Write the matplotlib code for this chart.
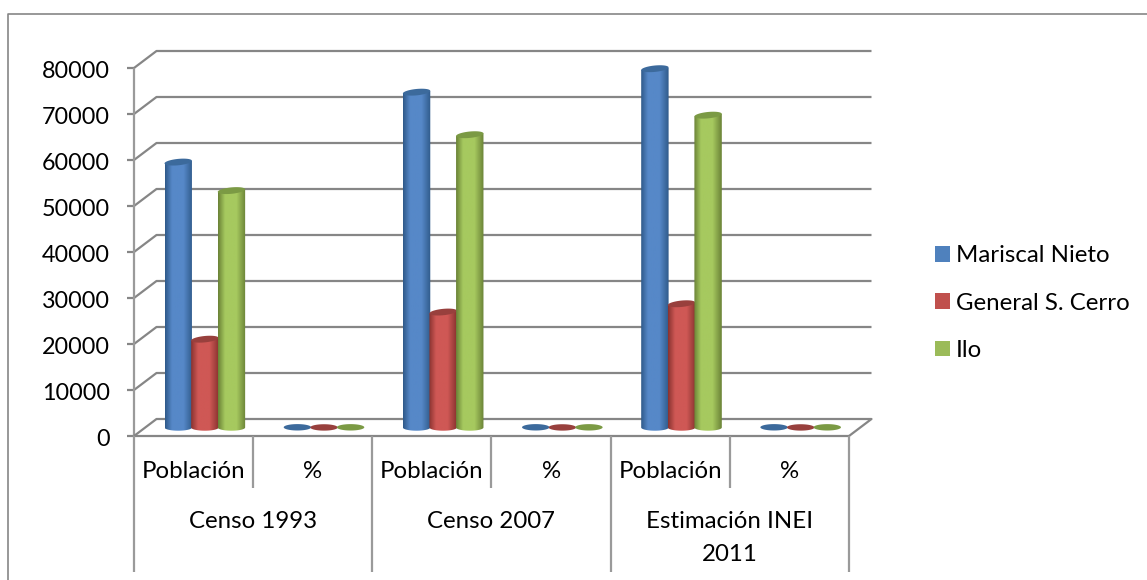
#!/usr/bin/env python3
import matplotlib
matplotlib.use("Agg")
import matplotlib.pyplot as plt
from matplotlib.colors import LinearSegmentedColormap
from matplotlib.lines import Line2D
from matplotlib.patches import PathPatch, Polygon, Rectangle
from matplotlib.path import Path
import numpy as np

W, H = 1147, 580

groups = ["Censo 1993", "Censo 2007", "Estimación INEI\n2011"]
subcats = ["Población", "%"] * 3
series = ["Mariscal Nieto", "General S. Cerro", "Ilo"]
mariscal = [57700, 45, 72900, 45, 78000, 45]
cerro = [19200, 15, 25100, 15, 26900, 15]
ilo = [51500, 40, 63650, 39, 67900, 40]
y_ticks = [0, 10000, 20000, 30000, 40000, 50000, 60000, 70000, 80000]

colors = ["#4f81bd", "#c0504d", "#9bbb59"]
edge_colors = ["#2f5a8a", "#8a3330", "#6b8337"]
mid_colors = ["#5688c8", "#cf5855", "#a6c95f"]
top_colors = ["#3c6a9c", "#98403d", "#7b9a44"]
GRID = "#868686"
LW = 1.6
FS = 17.3

plt.rcParams["font.family"] = ["Lato", "DejaVu Sans"]
fig = plt.figure(figsize=(W / 100, H / 100), dpi=100)

# front plane of the fake 3d box, in pixels of the image
left, right, y0, y80 = 134, 849, 436, 68
ax = fig.add_axes([left / W, 1 - y0 / H, (right - left) / W, (y0 - y80) / H])
ax.set_xlim(0, len(subcats))
ax.set_ylim(0, 80000)
ax.axis("off")

px = len(subcats) / (right - left)
py = 80000 / (y0 - y80)
depth_x = 22.5 * px
depth_y = 17 * py


def line(xs, ys, **kw):
    ax.add_line(Line2D(xs, ys, color=kw.pop("color", GRID), lw=kw.pop("lw", LW),
                       clip_on=False, solid_capstyle="butt", **kw))


# walls
for v in y_ticks:
    if v > 0:
        line([0, depth_x, len(subcats) + depth_x],
             [v, v + depth_y, v + depth_y], zorder=1)
    line([-7 * px, 0], [v, v], zorder=1)
line([0, 0], [0, 80000], zorder=1, color="#9a9a9a")
line([0, depth_x, len(subcats) + depth_x, len(subcats)],
     [0, depth_y, depth_y, 0], zorder=1)
line([0, len(subcats)], [0, 0], zorder=1)

# axis labels and the two level category axis
for v in y_ticks:
    ax.text(-24 * px, v - 4 * py, str(v), ha="right", va="center",
            fontsize=16.8, color="black", clip_on=False)

inner_bottom = -52 * py
outer_bottom = -136 * py
for i in range(len(subcats) + 1):
    bottom = outer_bottom if i % 2 == 0 else inner_bottom
    line([i, i], [0, bottom], zorder=1, color="#9a9a9a")
for i, lab in enumerate(subcats):
    ax.text(i + 0.5, -36 * py, lab, ha="center", va="center", fontsize=FS)
for i, lab in enumerate(groups):
    ax.text(2 * i + 1, -86 * py if "\n" not in lab else -102 * py, lab,
            ha="center", va="center", fontsize=FS, linespacing=1.75)


def cylinder(xc, val, k, zorder):
    hw = 13.7 * px
    ry = 3.2 * py
    base = depth_y / 2
    top = base + val
    # tall cylinders show a slightly tilted lid
    tilt = 1.3 * py if val > 1000 else 0.0
    t = np.linspace(0, 2 * np.pi, 60)
    lid_x = xc + hw * np.cos(t)
    lid_y = top + ry * np.sin(t) + tilt * np.cos(t)
    if val > 1000:
        s = np.linspace(np.pi, 2 * np.pi, 40)
        bx = xc + hw * np.cos(s)
        by = base + ry * np.sin(s)
        verts = np.vstack([[[xc - hw, top - tilt]], np.column_stack([bx, by]),
                           [[xc + hw, top + tilt]], [[xc - hw, top - tilt]]])
        clip = PathPatch(Path(verts), transform=ax.transData, fc="none", ec="none")
        ax.add_patch(clip)
        cmap = LinearSegmentedColormap.from_list(
            "c", [edge_colors[k], mid_colors[k], mid_colors[k], edge_colors[k]])
        grad = np.interp(np.linspace(0, 1, 60), [0, 0.3, 0.6, 1], [0, 0.4, 0.6, 1])[None, :]
        im = ax.imshow(grad, cmap=cmap, extent=[xc - hw, xc + hw, base - ry, top + tilt],
                       aspect="auto", zorder=zorder, vmin=0, vmax=1)
        im.set_clip_path(clip)
    ax.add_patch(Polygon(np.column_stack([lid_x, lid_y]), fc=top_colors[k], ec="none",
                         zorder=zorder + 0.1, clip_on=False))


all_vals = [mariscal, cerro, ilo]
for i in range(len(subcats)):
    for k, vals in enumerate(all_vals):
        xc = i + 0.5 + depth_x / 2 + (k - 1) * 26.6 * px
        cylinder(xc, vals[i], k, 3 + k)
ax.set_xlim(0, len(subcats))
ax.set_ylim(0, 80000)

handles = [Rectangle((0, 0), 1, 1, fc=c, ec="none") for c in colors]
fig.legend(handles, series, loc="upper left", bbox_to_anchor=(916 / W, 1 - 226 / H),
           frameon=False, fontsize=FS, handlelength=0.62, handleheight=0.62,
           handletextpad=0.24, labelspacing=1.1, borderpad=0.3)

# picture frame, cut by the image edge on the right and below
fig.add_artist(Line2D([8 / W, 8 / W, 1], [0, 1 - 14 / H, 1 - 14 / H],
                      color=GRID, lw=1.2, transform=fig.transFigure))

fig.savefig("out.png", dpi=100)
plt.close(fig)
